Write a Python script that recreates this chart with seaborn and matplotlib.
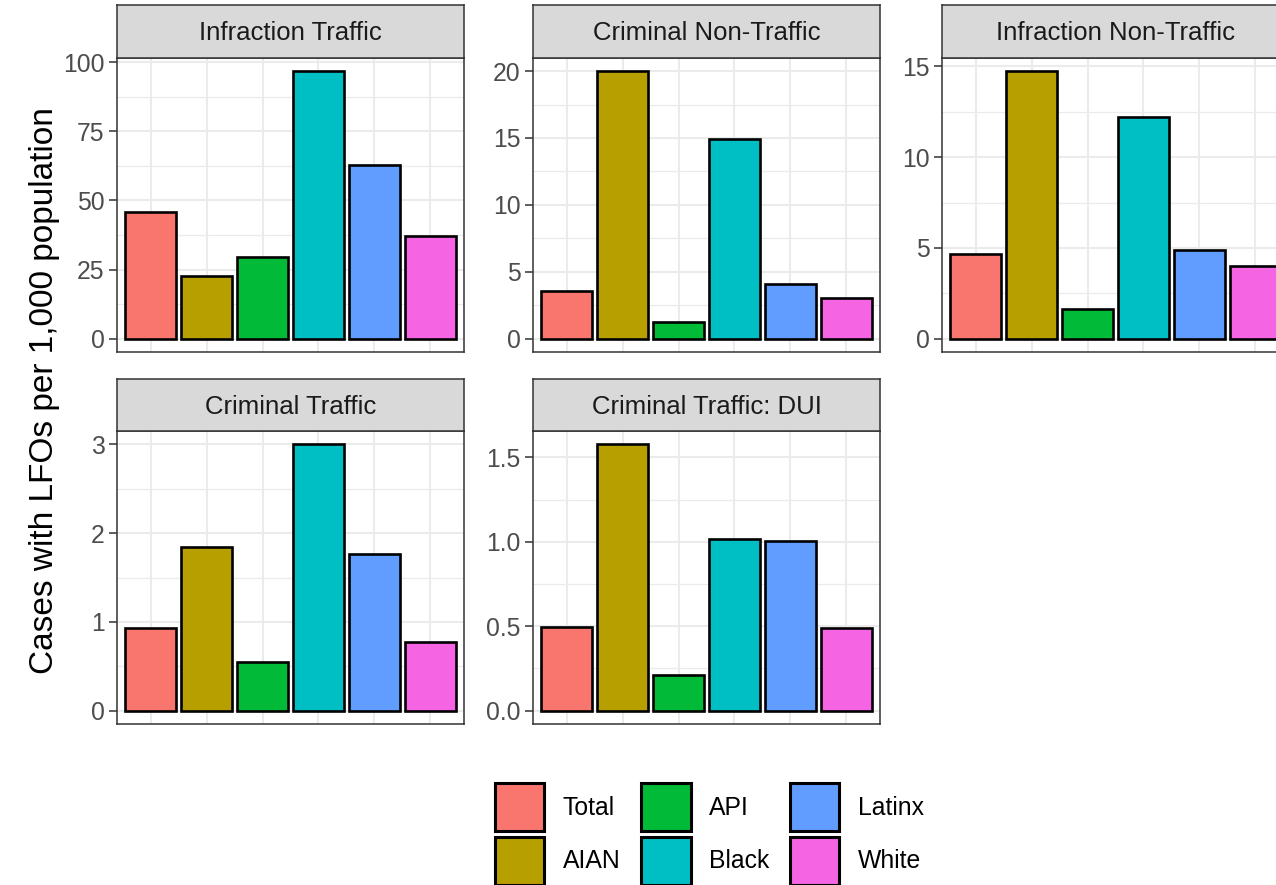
import pandas as pd
import seaborn as sns
import matplotlib.pyplot as plt
from matplotlib.patches import Patch
from matplotlib.ticker import MultipleLocator, AutoMinorLocator, FormatStrFormatter

groups = ["Total", "AIAN", "API", "Black", "Latinx", "White"]
colors = ["#F8766D", "#B79F00", "#00BA38", "#00BFC4", "#619CFF", "#F564E3"]

panels = ["Infraction Traffic", "Criminal Non-Traffic", "Infraction Non-Traffic",
          "Criminal Traffic", "Criminal Traffic: DUI"]
infraction_traffic = [45.9, 22.8, 29.5, 96.7, 62.9, 37.1]
criminal_non_traffic = [3.53, 19.98, 1.27, 14.9, 4.1, 3.06]
infraction_non_traffic = [4.64, 14.73, 1.61, 12.2, 4.9, 3.98]
criminal_traffic = [0.926, 1.84, 0.553, 3.0, 1.77, 0.773]
criminal_traffic_dui = [0.495, 1.578, 0.214, 1.02, 1.008, 0.491]
tick_steps = [25, 5, 5, 1, 0.5]

series = [infraction_traffic, criminal_non_traffic, infraction_non_traffic,
          criminal_traffic, criminal_traffic_dui]
rows = []
for p, vals in zip(panels, series):
    for g, v in zip(groups, vals):
        rows.append({"panel": p, "group": g, "rate": v})
df = pd.DataFrame(rows)

sns.set_style("white")
plt.rcParams["font.family"] = ["Liberation Sans", "DejaVu Sans"]

W, H = 1276, 885
fig = plt.figure(figsize=(W / 100, H / 100), dpi=100)

# panel boxes in pixels: (left, strip top, strip bottom, plot bottom)
cols = [117, 533, 942]
width = 347
row_y = [(5, 58, 352), (379, 431, 724)]
border = "#333333"

for i, (p, step) in enumerate(zip(panels, tick_steps)):
    x0 = cols[i % 3]
    st, sb, pb = row_y[i // 3]
    ax = fig.add_axes([x0 / W, (H - pb) / H, width / W, (pb - sb) / H])
    sub = df[df["panel"] == p]
    sns.barplot(data=sub, x="group", y="rate", hue="group", order=groups,
                hue_order=groups, palette=colors, saturation=1, width=0.9,
                edgecolor="black", linewidth=1.9, legend=False, ax=ax, zorder=3)
    top = sub["rate"].max()
    ax.set_ylim(-0.05 * top, 1.05 * top)
    ax.set_xlim(-0.6, 5.6)
    ax.yaxis.set_major_locator(MultipleLocator(step))
    ax.yaxis.set_minor_locator(AutoMinorLocator(2))
    if step < 1:
        ax.yaxis.set_major_formatter(FormatStrFormatter("%.1f"))
    ax.grid(True, which="major", color="#EBEBEB", lw=1.5, zorder=0)
    ax.grid(True, which="minor", axis="y", color="#EBEBEB", lw=0.9, zorder=0)
    ax.set_axisbelow(True)
    ax.set_xlabel("")
    ax.set_ylabel("")
    ax.tick_params(axis="x", length=0, labelbottom=False)
    ax.tick_params(axis="y", which="major", length=5.5, width=1.1, color=border,
                   labelsize=17.8, labelcolor="#4D4D4D", pad=3.5, left=True)
    ax.tick_params(axis="y", which="minor", length=0)
    for s in ax.spines.values():
        s.set_color(border)
        s.set_linewidth(1.1)

    strip = fig.add_axes([x0 / W, (H - sb) / H, width / W, (sb - st) / H])
    strip.set_facecolor("#D9D9D9")
    strip.set_xticks([])
    strip.set_yticks([])
    for s in strip.spines.values():
        s.set_color(border)
        s.set_linewidth(1.1)
    strip.text(0.5, 0.47, p, ha="center", va="center", fontsize=18.5,
               color="#1A1A1A", transform=strip.transAxes)

fig.text(45 / W, 1 - 391 / H, "Cases with LFOs per 1,000 population",
         rotation=90, ha="center", va="center", fontsize=24, color="black")

handles = [Patch(facecolor=c, edgecolor="black", linewidth=2.2) for c in colors]
fig.legend(handles, groups, ncol=3, loc="upper left",
           bbox_to_anchor=(495 / W, 1 - 783 / H), frameon=False, borderpad=0,
           borderaxespad=0, fontsize=17.8, handlelength=2.0, handleheight=2.62,
           handletextpad=0.73, columnspacing=0.85, labelspacing=0.22,
           labelcolor="black")

fig.savefig("out.png", dpi=100)
